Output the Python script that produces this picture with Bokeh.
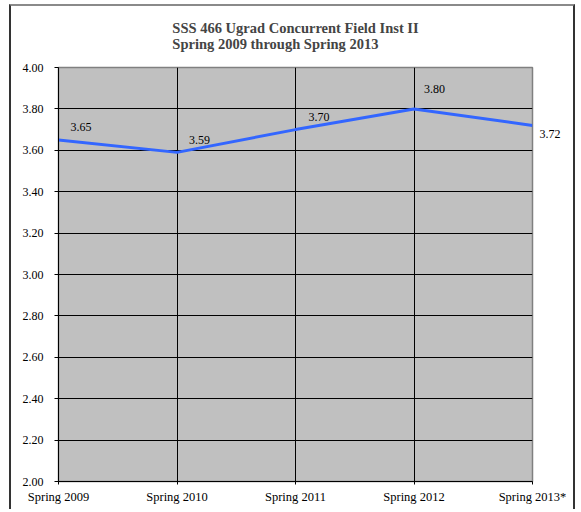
from bokeh.plotting import figure
from bokeh.models import ColumnDataSource, Range1d, FixedTicker, NumeralTickFormatter
from bokeh.core.properties import value
from bokeh.embed import file_html
from bokeh.resources import INLINE

# ---- data ----
categories = ["Spring 2009", "Spring 2010", "Spring 2011", "Spring 2012", "Spring 2013*"]
scores = [3.65, 3.59, 3.70, 3.80, 3.72]
y_ticks = [2.00, 2.20, 2.40, 2.60, 2.80, 3.00, 3.20, 3.40, 3.60, 3.80, 4.00]
title_lines = ["SSS 466 Ugrad Concurrent Field Inst II", "Spring 2009 through Spring 2013"]

# ---- label placement (style, screen pixels, y down) ----
label_dx = [12, 12, 13, 10, 7]
label_dy = [-13, -12.5, -13, -20, 9]

FONT = "Liberation Serif"

xs = list(range(len(categories)))
src = ColumnDataSource(dict(
    x=xs,
    y=scores,
    label=[f"{v:.2f}" for v in scores],
    dx=label_dx,
    dy=label_dy,
))

p = figure(
    width=566, height=505,
    x_range=Range1d(xs[0], xs[-1]),
    y_range=Range1d(y_ticks[0], y_ticks[-1]),
    output_backend="svg",
    toolbar_location=None,
    min_border_left=47, min_border_right=45,
    min_border_top=61, min_border_bottom=30,
    background_fill_color="#C0C0C0",
    border_fill_color="white",
    outline_line_color="#808080",
    outline_line_width=1.5,
    styles={
        "margin-left": "9px",
        "margin-top": "4px",
        "border-left": "2px solid #333333",
        "border-top": "2px solid #8a8a8a",
        "border-right": "2px solid #333333",
    },
)

# title
p.title.text = "\n".join(title_lines)
p.title.text_font = FONT
p.title.text_font_size = "14.5px"
p.title.text_font_style = "bold"
p.title.align = "center"
p.title.vertical_align = "top"
p.title.text_line_height = 1.0
p.title.standoff = 27

# x axis
p.xaxis.ticker = FixedTicker(ticks=xs)
p.xaxis.major_label_overrides = {i: c for i, c in zip(xs, categories)}
p.xaxis.major_label_text_font = FONT
p.xaxis.major_label_text_font_size = "12.5px"
p.xaxis.major_label_text_color = "black"
p.xaxis.major_tick_in = 0
p.xaxis.major_tick_out = 3
p.xaxis.minor_tick_line_color = None
p.xaxis.major_label_standoff = 5
p.xaxis.axis_line_color = "black"
p.xaxis.major_tick_line_color = "black"

# y axis
p.yaxis.ticker = FixedTicker(ticks=y_ticks)
p.yaxis.formatter = NumeralTickFormatter(format="0.00")
p.yaxis.major_label_text_font = FONT
p.yaxis.major_label_text_font_size = "12px"
p.yaxis.major_label_text_color = "black"
p.yaxis.major_tick_in = 0
p.yaxis.major_tick_out = 4
p.yaxis.minor_tick_line_color = None
p.yaxis.major_label_standoff = 11
p.yaxis.axis_line_color = "black"
p.yaxis.major_tick_line_color = "black"

# grids
p.xgrid.ticker = FixedTicker(ticks=xs)
p.xgrid.grid_line_color = "black"
p.xgrid.grid_line_width = 1
p.ygrid.ticker = FixedTicker(ticks=y_ticks)
p.ygrid.grid_line_color = "black"
p.ygrid.grid_line_width = 1

# series
p.line("x", "y", source=src, line_color="#3366FF", line_width=3)
p.text("x", "y", text="label", source=src,
       x_offset="dx", y_offset="dy",
       text_font=value(FONT), text_font_size="12px",
       text_color="black", text_align="left", text_baseline="middle",
       level="overlay")

open("out.html", "w").write(file_html(p, INLINE))
